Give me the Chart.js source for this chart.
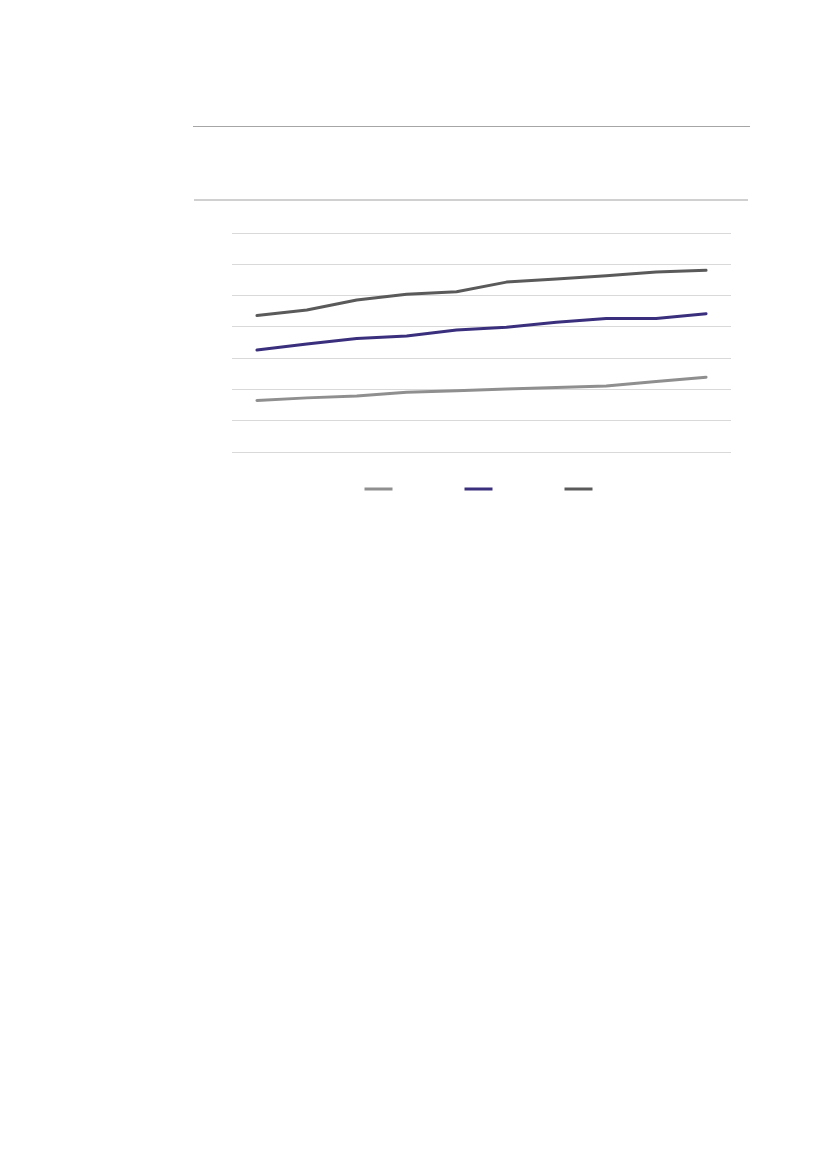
<!DOCTYPE html>
<html>
<head>
<meta charset="utf-8">
<script src="https://cdn.jsdelivr.net/npm/chart.js@4/dist/chart.umd.min.js"></script>
<style>
  html, body { margin: 0; padding: 0; background: #ffffff; }
  body { width: 827px; height: 1169px; position: relative; overflow: hidden; font-family: "Open Sans", "Liberation Sans", sans-serif; }
  .rule1 { position: absolute; left: 193px; top: 126px; width: 557px; height: 1px; background: #a6a6a6; }
  .rule2 { position: absolute; left: 194px; top: 199px; width: 554px; height: 2px; background: #d0d0d0; }
  #wrap { position: absolute; left: 200px; top: 215px; width: 550px; height: 300px; }
</style>
</head>
<body>
<div class="rule1"></div>
<div class="rule2"></div>
<div id="wrap"><canvas id="c" width="550" height="300"></canvas></div>
<script>
const categories = ['1', '2', '3', '4', '5', '6', '7', '8', '9', '10'];
const seriesLight = [16.5, 17.3, 17.9, 19.1, 19.6, 20.1, 20.6, 21.1, 22.5, 23.9];
const seriesPurple = [32.6, 34.5, 36.3, 37.1, 39.0, 39.9, 41.5, 42.7, 42.7, 44.2];
const seriesDark = [43.6, 45.4, 48.6, 50.4, 51.2, 54.3, 55.3, 56.3, 57.5, 58.1];
const yMin = 0, yMax = 70, yStep = 10;

const colors = ['#8f8f8f', '#3a2f7d', '#5a5a5a'];
const LEGEND_TRIM = 43;

const legendTrim = {
  id: 'legendTrim',
  afterInit(chart) {
    const lg = chart.legend;
    if (!lg) return;
    const fit = lg.fit;
    lg.fit = function () { fit.call(this); this.height -= LEGEND_TRIM; };
    lg.draw = function () {
      if (!this.options.display) return;
      const ctx = this.ctx;
      ctx.save();
      ctx.translate(0, -LEGEND_TRIM);
      this._draw();
      ctx.restore();
    };
  }
};

const chart = new Chart(document.getElementById('c'), {
  type: 'line',
  data: {
    labels: categories,
    datasets: [
      { label: '', data: seriesLight, borderColor: colors[0], backgroundColor: colors[0] },
      { label: '', data: seriesPurple, borderColor: colors[1], backgroundColor: colors[1] },
      { label: '', data: seriesDark, borderColor: colors[2], backgroundColor: colors[2] }
    ]
  },
  plugins: [legendTrim],
  options: {
    responsive: false,
    animation: false,
    devicePixelRatio: 1,
    layout: { padding: { left: 32, right: 19, top: 18, bottom: 10 } },
    elements: {
      line: { borderWidth: 3, tension: 0, borderCapStyle: 'round', borderJoinStyle: 'round' },
      point: { radius: 0 }
    },
    scales: {
      x: {
        offset: true,
        grid: { display: false },
        border: { display: false },
        ticks: { display: false }
      },
      y: {
        min: yMin, max: yMax,
        ticks: { display: false, stepSize: yStep },
        grid: { color: '#d9d9d9', lineWidth: 1, drawTicks: false },
        border: { display: false }
      }
    },
    plugins: {
      tooltip: { enabled: false },
      legend: {
        position: 'bottom',
        labels: {
          boxWidth: 28,
          boxHeight: 3,
          padding: 66,
          font: { size: 12 },
          generateLabels: (ch) => ch.data.datasets.map((ds, i) => ({
            text: ds.label,
            fillStyle: ds.borderColor,
            strokeStyle: ds.borderColor,
            lineWidth: 0,
            hidden: false,
            datasetIndex: i
          }))
        }
      }
    }
  }
});
</script>
</body>
</html>
